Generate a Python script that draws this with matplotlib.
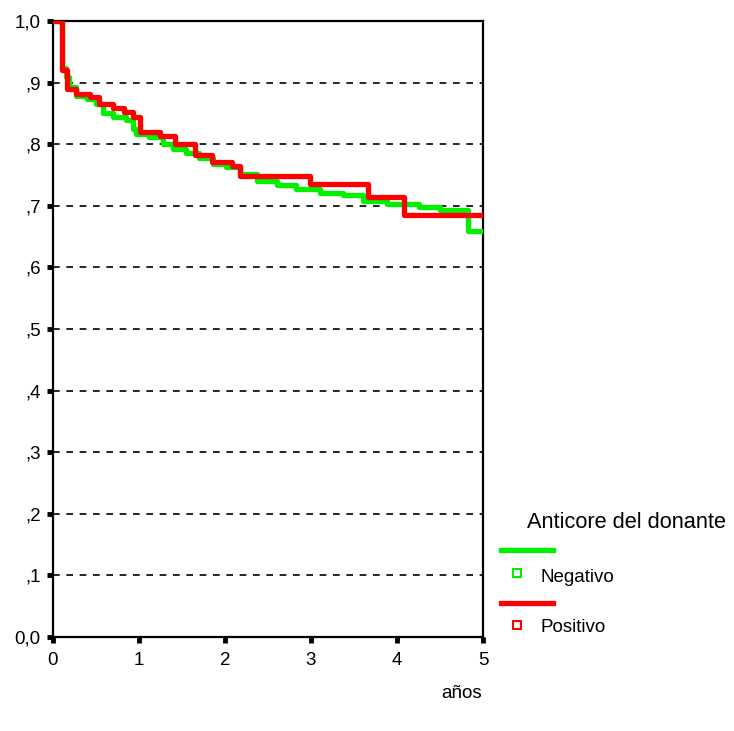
import matplotlib
matplotlib.use('Agg')

import matplotlib.pyplot as plt
from matplotlib.lines import Line2D

# Kaplan-Meier steps (years, survival)
neg_t = [0.0, 0.10, 0.155, 0.19, 0.27, 0.39, 0.50, 0.58, 0.70, 0.85, 0.93, 0.97,
         1.12, 1.28, 1.40, 1.55, 1.70, 1.86, 2.01, 2.17, 2.37, 2.60, 2.83, 3.10,
         3.37, 3.60, 3.88, 4.26, 4.50, 4.83, 5.0]
neg_s = [1.0, 0.923, 0.909, 0.893, 0.879, 0.874, 0.866, 0.85, 0.844, 0.839, 0.825, 0.817,
         0.812, 0.801, 0.793, 0.785, 0.777, 0.768, 0.763, 0.752, 0.741, 0.734, 0.727, 0.720,
         0.718, 0.708, 0.703, 0.698, 0.693, 0.659, 0.659]

pos_t = [0.0, 0.10, 0.16, 0.27, 0.43, 0.54, 0.70, 0.82, 0.93, 1.01, 1.24, 1.42,
         1.65, 1.85, 2.08, 2.17, 2.99, 3.66, 4.08, 5.0]
pos_s = [1.0, 0.92, 0.889, 0.882, 0.876, 0.866, 0.858, 0.852, 0.844, 0.82, 0.813, 0.80,
         0.782, 0.771, 0.765, 0.748, 0.735, 0.714, 0.685, 0.685]

x_ticks = [0, 1, 2, 3, 4, 5]
y_ticks = [0.0, 0.1, 0.2, 0.3, 0.4, 0.5, 0.6, 0.7, 0.8, 0.9, 1.0]
y_labels = ['0,0', ',1', ',2', ',3', ',4', ',5', ',6', ',7', ',8', ',9', '1,0']

green = '#00f000'
red = '#ff0000'

plt.rcParams['font.family'] = ['Liberation Sans', 'DejaVu Sans']

fig = plt.figure(figsize=(7.34, 7.31), dpi=100)
ax = fig.add_axes([53 / 734, 94 / 731, 430 / 734, 616 / 731])

for yv in y_ticks[1:-1]:
    ax.axhline(yv, color='black', linestyle=(0, (4, 4)), linewidth=1.2, zorder=1)

ax.step(neg_t, neg_s, where='post', color=green, linewidth=3.8, zorder=3)
ax.step(pos_t, pos_s, where='post', color=red, linewidth=3.8, zorder=4)

ax.set_xlim(0, 5)
ax.set_ylim(0, 1)
ax.set_xticks(x_ticks)
ax.set_xticklabels([str(v) for v in x_ticks])
ax.set_yticks(y_ticks)
ax.set_yticklabels(y_labels)
ax.tick_params(axis='both', direction='out', length=4, width=3.5, labelsize=13.5)
ax.tick_params(axis='x', pad=7)
ax.tick_params(axis='y', pad=5)
for sp in ax.spines.values():
    sp.set_linewidth(1.6)

fig.text(462 / 734, 1 - 693 / 731, 'años', fontsize=13.5, ha='center', va='center')

# legend drawn by hand to mimic the SPSS layout
fig.text(527 / 734, 1 - 522 / 731, 'Anticore del donante', fontsize=15.7, ha='left', va='center')
fig.add_artist(Line2D([501 / 734, 553 / 734], [1 - 550 / 731] * 2, color=green, linewidth=3.8))
fig.add_artist(Line2D([517 / 734], [1 - 573 / 731], marker='s', markersize=6, markerfacecolor='white',
                      markeredgecolor=green, markeredgewidth=1.5, linestyle='none'))
fig.text(540 / 734, 1 - 578 / 731, 'Negativo', fontsize=13.5, ha='left', va='center')
fig.add_artist(Line2D([501 / 734, 553 / 734], [1 - 603 / 731] * 2, color=red, linewidth=3.8))
fig.add_artist(Line2D([517 / 734], [1 - 625 / 731], marker='s', markersize=6, markerfacecolor='white',
                      markeredgecolor=red, markeredgewidth=1.5, linestyle='none'))
fig.text(540 / 734, 1 - 628 / 731, 'Positivo', fontsize=13.5, ha='left', va='center')

fig.savefig('out.png', dpi=100)
plt.close(fig)
